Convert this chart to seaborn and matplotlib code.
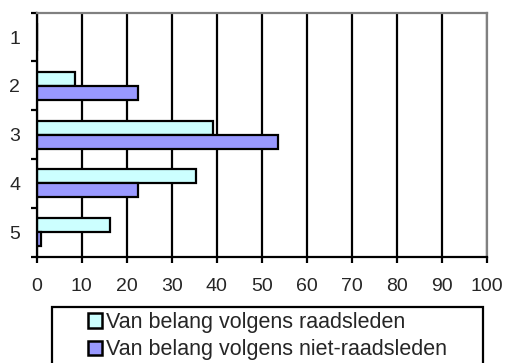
import matplotlib
matplotlib.use("Agg")
import matplotlib.pyplot as plt
from matplotlib.patches import Rectangle
import seaborn as sns
import pandas as pd
import numpy as np

categories = ["1", "2", "3", "4", "5"]
raadsleden = [0, 8.5, 39.1, 35.4, 16.4]
niet_raadsleden = [0, 22.4, 53.7, 22.4, 0.9]
series_names = ["Van belang volgens raadsleden", "Van belang volgens niet-raadsleden"]
x_ticks = [0, 10, 20, 30, 40, 50, 60, 70, 80, 90, 100]

df = pd.DataFrame({
    "categorie": categories * 2,
    "waarde": raadsleden + niet_raadsleden,
    "reeks": [series_names[0]] * len(categories) + [series_names[1]] * len(categories),
})

sns.set_style("white")
plt.rcParams["font.family"] = ["Liberation Sans", "DejaVu Sans"]

W, H = 506, 363
fig = plt.figure(figsize=(W / 100, H / 100), dpi=100)
ax = fig.add_axes([0.0725, 0.293, 0.8895, 0.672])

palette = {series_names[0]: "#CCFFFF", series_names[1]: "#9999FF"}
sns.barplot(data=df, y="categorie", x="waarde", hue="reeks", order=categories,
            hue_order=series_names, palette=palette, orient="h", width=0.574,
            gap=0, edgecolor="black", linewidth=1.6, saturation=1, ax=ax,
            legend=True)

ax.set_xlim(0, 100)
ax.set_ylim(4.5, -0.5)
ax.set_xticks(x_ticks)
ax.set_xticklabels([str(t) for t in x_ticks], fontsize=14)
ax.set_yticks(range(len(categories)))
ax.set_yticklabels(categories, fontsize=14)
ax.set_yticks(np.arange(-0.5, len(categories), 1.0), minor=True)
ax.set_xlabel("")
ax.set_ylabel("")

ax.set_axisbelow(True)
ax.xaxis.grid(True, color="black", linewidth=1.6)
ax.yaxis.grid(False)

for side in ["top", "right"]:
    ax.spines[side].set_color("#808080")
    ax.spines[side].set_linewidth(1.6)
for side in ["left", "bottom"]:
    ax.spines[side].set_color("black")
    ax.spines[side].set_linewidth(1.6)

ax.tick_params(axis="x", which="major", direction="out", length=4.5, width=1.6,
               color="black", pad=11, bottom=True)
ax.tick_params(axis="y", which="major", length=0, pad=12, left=True)
ax.tick_params(axis="y", which="minor", direction="out", length=4.5, width=1.6,
               color="black", left=True)

# Legend entries without their own frame; a wide box is drawn around them
handles, labels = ax.get_legend_handles_labels()
ax.legend_.remove()
for h in handles:
    h.set_linewidth(1.8)
leg = fig.legend(handles, labels, loc="upper left",
                 bbox_to_anchor=(88 / W, 1 - 312 / H),
                 ncol=1, fontsize=15.5, frameon=False,
                 handlelength=0.65, handleheight=0.65,
                 handletextpad=0.2, borderpad=0, labelspacing=0.3,
                 borderaxespad=0)

box = Rectangle((52 / W, 1 - 368 / H), (483 - 52) / W, (368 - 307) / H,
                transform=fig.transFigure, fill=False, edgecolor="black",
                linewidth=1.6, clip_on=False)
fig.add_artist(box)

fig.savefig("out.png", dpi=100)
